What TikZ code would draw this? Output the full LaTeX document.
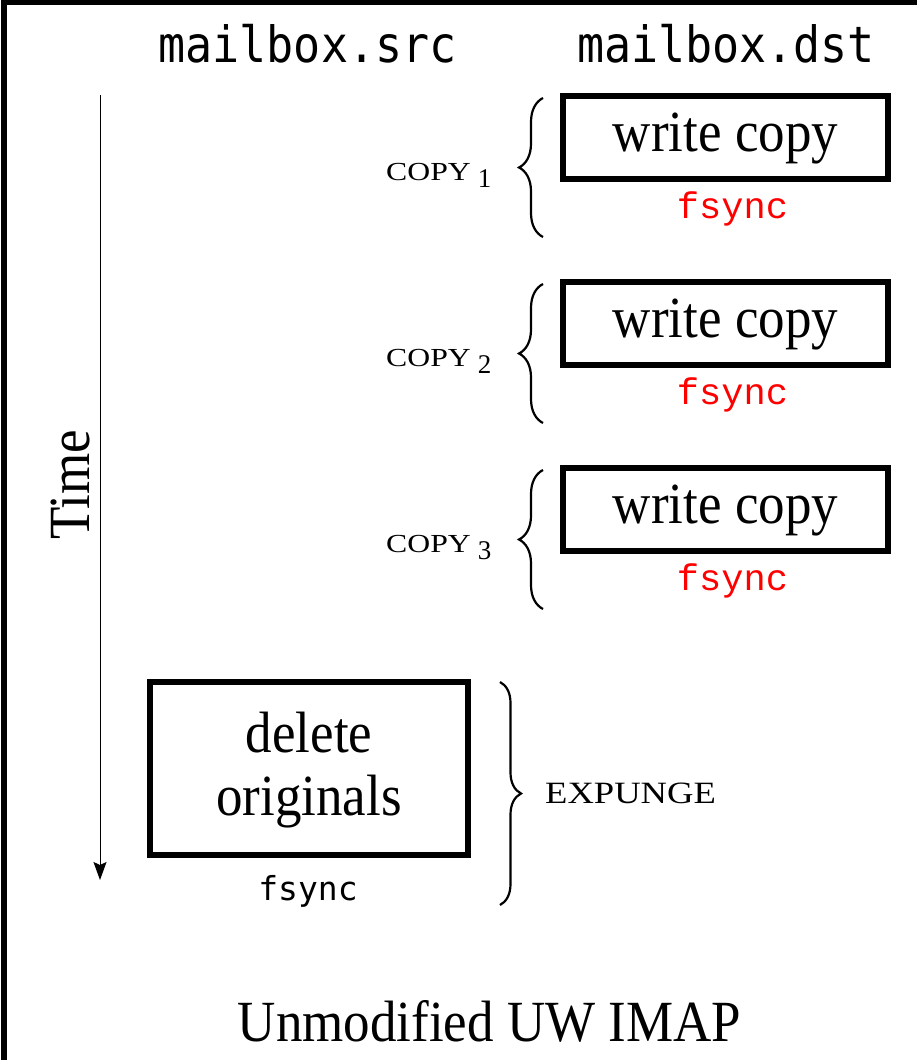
\documentclass[tikz,border=0pt]{standalone}
\usepackage{fontspec}
\usepackage{graphicx}
\setmainfont{Liberation Serif}
\newfontfamily\sansmono{DejaVu Sans Mono}
\newfontfamily\couriermono{Liberation Mono}
\usetikzlibrary{decorations.pathreplacing,arrows.meta}
\newcommand\copylab[1]{\scalebox{1.22}[1]{COPY}\hspace{7pt}\raisebox{-7pt}{\fontsize{27}{27}\selectfont #1}}
\newcommand\tall[1]{\scalebox{1}[1.1]{#1}}
\begin{document}
\begin{tikzpicture}[x=1pt,y=-1pt,
  wbox/.style={draw, line width=6pt, inner sep=0pt, font=\fontsize{53}{63}\selectfont},
  wcopy/.style={wbox, minimum width=325pt, minimum height=83.5pt, text height=36pt, text depth=7pt},
  fsr/.style={anchor=base, inner sep=0pt, text=red, font=\couriermono\fontsize{37}{37}\selectfont},
  fsb/.style={anchor=base, inner sep=0pt, font=\sansmono\fontsize{33}{33}\selectfont},
  hdr/.style={anchor=base, inner sep=0pt, font=\sansmono\fontsize{50}{50}\selectfont},
  lbl/.style={anchor=base west, inner sep=0pt, font=\fontsize{26}{26}\selectfont},
  brc/.style={decorate, decoration={brace, amplitude=24pt}, line width=2.2pt},
  big/.style={inner sep=0pt, font=\fontsize{53}{63}\selectfont}]
\useasboundingbox (0,0) rectangle (917,1060);
% frame
\coordinate (fr1) at (4,1060);
\coordinate (fr2) at (4,2.5);
\coordinate (fr3) at (917,2.5);
\draw[line width=6pt] (fr1) -- (fr2);
\draw[line width=5pt] (1,2.5) -- (fr3);
% headers
\node[hdr] (src) at (307.5,62) {\scalebox{0.9}[1]{mailbox.src}};
\node[hdr] (dst) at (726,62) {\scalebox{0.9}[1]{mailbox.dst}};
% time arrow
\coordinate (t0) at (100,95);
\coordinate (t1) at (100,880);
\draw[line width=1pt, -{Stealth[length=18pt,width=13pt,inset=3pt]}] (t0) -- (t1);
\node[big, rotate=90] (time) at (70,485) {\tall{Time}};
% copies
\foreach \i/\dy in {1/0,2/186,3/372}{
  \node[wcopy] (w\i) at (725.5,137.25+\dy) {\tall{write copy}};
  \node[fsr] (f\i) at (732.5,218+\dy) {fsync};
  \node[lbl] (c\i) at (386,180+\dy) {\copylab{\i}};
  \coordinate (bt\i) at (543,98+\dy);
  \coordinate (bb\i) at (543,237+\dy);
  \draw[brc] (bb\i) -- (bt\i);
}
% delete originals
\node[wbox, minimum width=318pt, minimum height=173pt, align=center, text height=100pt, text depth=7pt] (del) at (309,768.5) {\tall{delete}\\\tall{originals}};
\node[fsb] (f4) at (308,900) {fsync};
\coordinate (et) at (500,682);
\coordinate (eb) at (500,905);
\draw[brc, decoration={brace, amplitude=21pt}] (et) -- (eb);
\node[lbl, font=\fontsize{31}{31}\selectfont] (exp) at (545,803) {\scalebox{1.18}[1]{EXPUNGE}};
% title
\node[big, anchor=base] (title) at (489.5,1041) {\tall{Unmodified UW IMAP}};
\end{tikzpicture}
\end{document}
